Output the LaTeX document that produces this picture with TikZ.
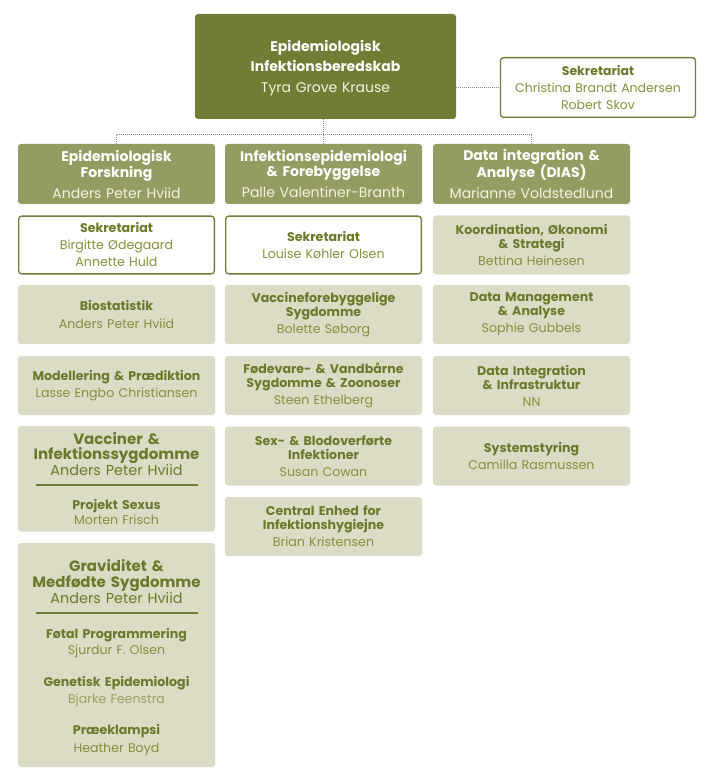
\documentclass[tikz,border=0pt]{standalone}
\usepackage{fontspec}
\setmainfont{Poppins}
\definecolor{topgreen}{HTML}{6F7D35}
\definecolor{headgreen}{HTML}{959C62}
\definecolor{lightbg}{HTML}{DBDBC6}
\definecolor{olivetext}{HTML}{6B7A2A}
\definecolor{nametext}{HTML}{868F3C}
\definecolor{paletext}{HTML}{9AA15C}
\definecolor{dotgray}{HTML}{8A8A8A}
\definecolor{cream}{HTML}{F6F3E2}
\begin{document}
\begin{tikzpicture}[x=1pt,y=-1pt,
  basebox/.style={rounded corners=3pt, inner sep=0pt, minimum width=197pt, text width=195pt, align=center},
  headbox/.style={basebox, fill=headgreen, minimum height=60pt, text=white},
  lightbox/.style={basebox, fill=lightbg, minimum height=59pt, font=\fontsize{12.6}{14}\selectfont},
  secbox/.style={basebox, fill=white, draw=topgreen, line width=1.3pt, minimum width=195.7pt, minimum height=57.7pt, font=\fontsize{12.6}{17}\selectfont},
  conn/.style={draw=dotgray, line width=0.8pt, dash pattern=on 0.9pt off 1.1pt},
  sepline/.style={draw=topgreen, line width=1.5pt},
  txt/.style={inner sep=0pt, align=center, text width=195pt}
]
\useasboundingbox (0,0) rectangle (707,783);

% top level
\node[basebox, fill=topgreen, minimum width=261pt, text width=255pt, minimum height=105pt] (top) at (325.5,66.5) {};
\node[txt, text width=255pt, font=\fontsize{14}{20.5}\selectfont, text=white] (topt) at (325.5,68)
  {\textbf{Epidemiologisk}\\\textbf{Infektionsberedskab}\\{\color{cream}Tyra Grove Krause}};
\node[secbox, minimum width=194.7pt, minimum height=59.7pt, font=\fontsize{12.5}{17}\selectfont] (sek0) at (598,87.5)
  {\textbf{\color{olivetext}Sekretariat}\\{\color{nametext}Christina Brandt Andersen}\\{\color{nametext}Robert Skov}};

% column headers
\node[headbox, font=\fontsize{14}{15}\selectfont] (head1) at (116.5,174)
  {\textbf{Epidemiologisk}\\\textbf{Forskning}\\[6pt]{\color{cream}Anders Peter Hviid}};
\node[headbox, font=\fontsize{14}{15}\selectfont] (head2) at (323.5,174)
  {\textbf{Infektionsepidemiologi}\\\textbf{\& Forebyggelse}\\[6pt]{\color{cream}Palle Valentiner-Branth}};
\node[headbox, font=\fontsize{14}{15}\selectfont] (head3) at (531.5,174)
  {\textbf{Data integration \&}\\\textbf{Analyse (DIAS)}\\[6pt]{\color{cream}Marianne Voldstedlund}};

% connectors
\coordinate (bus1) at (116.5,134);
\coordinate (bus3) at (531.5,134);
\draw[conn] (head1.north) -- (bus1) -- (bus3) -- (head3.north);
\draw[conn] (top.south -| head2.north) -- (head2.north);
\draw[conn] (top.east |- sek0.west) -- (sek0.west);

% column 1
\node[secbox] (sek1) at (116.5,245)
  {\textbf{\color{olivetext}Sekretariat}\\{\color{nametext}Birgitte Ødegaard}\\{\color{nametext}Annette Huld}};
\node[lightbox] (bio) at (116.5,314.5)
  {\textbf{\color{olivetext}Biostatistik}\\[4pt]{\color{nametext}Anders Peter Hviid}};
\node[lightbox] (mod) at (116.5,385.5)
  {\textbf{\color{olivetext}Modellering \& Prædiktion}\\[3pt]{\color{nametext}Lasse Engbo Christiansen}};
\node[lightbox, minimum height=105.5pt] (vacc) at (116.5,478.75) {};
\node[txt, font=\fontsize{15}{15.5}\selectfont, text=olivetext] (vacct) at (116.5,454)
  {\textbf{Vacciner \&}\\\textbf{Infektionssygdomme}\\{\fontsize{14.4}{15.5}\selectfont Anders Peter Hviid}};
\draw[sepline] (36,485) -- (198,485);
\node[txt, font=\fontsize{12.6}{15.5}\selectfont] (sexus) at (116.5,512)
  {\textbf{\color{olivetext}Projekt Sexus}\\{\color{nametext}Morten Frisch}};

\node[lightbox, minimum height=224pt] (grav) at (116.5,655) {};
\node[txt, font=\fontsize{15}{15.8}\selectfont, text=olivetext] (gravt) at (116.5,581.5)
  {\textbf{Graviditet \&}\\\textbf{Medfødte Sygdomme}\\{\fontsize{14.4}{15.8}\selectfont Anders Peter Hviid}};
\draw[sepline] (36,613) -- (198,613);
\node[txt, font=\fontsize{12.6}{16.5}\selectfont] (fot) at (116.5,643)
  {\textbf{\color{olivetext}Føtal Programmering}\\{\color{nametext}Sjurdur F. Olsen}};
\node[txt, font=\fontsize{12.6}{17}\selectfont] (gen) at (116.5,691.5)
  {\textbf{\color{olivetext}Genetisk Epidemiologi}\\{\color{paletext}Bjarke Feenstra}};
\node[txt, font=\fontsize{12.6}{18}\selectfont] (pre) at (116.5,740)
  {\textbf{\color{olivetext}Præeklampsi}\\{\color{nametext}Heather Boyd}};

% column 2
\node[secbox] (sek2) at (323.5,245)
  {\textbf{\color{olivetext}Sekretariat}\\{\color{nametext}Louise Køhler Olsen}};
\node[lightbox] (vac2) at (323.5,314.5)
  {\textbf{\color{olivetext}Vaccineforebyggelige}\\\textbf{\color{olivetext}Sygdomme}\\[3pt]{\color{nametext}Bolette Søborg}};
\node[lightbox] (fod) at (323.5,385.5)
  {\textbf{\color{olivetext}Fødevare- \& Vandbårne}\\\textbf{\color{olivetext}Sygdomme \& Zoonoser}\\[3pt]{\color{nametext}Steen Ethelberg}};
\node[lightbox] (sex) at (323.5,456)
  {\textbf{\color{olivetext}Sex- \& Blodoverførte}\\\textbf{\color{olivetext}Infektioner}\\[3pt]{\color{nametext}Susan Cowan}};
\node[lightbox] (cen) at (323.5,526.5)
  {\textbf{\color{olivetext}Central Enhed for}\\\textbf{\color{olivetext}Infektionshygiejne}\\[3pt]{\color{nametext}Brian Kristensen}};

% column 3
\node[lightbox] (koo) at (531.5,245)
  {\textbf{\color{olivetext}Koordination, Økonomi}\\\textbf{\color{olivetext}\& Strategi}\\[3pt]{\color{nametext}Bettina Heinesen}};
\node[lightbox] (dm) at (531.5,314.5)
  {\textbf{\color{olivetext}Data Management}\\\textbf{\color{olivetext}\& Analyse}\\[3pt]{\color{nametext}Sophie Gubbels}};
\node[lightbox] (di) at (531.5,385.5)
  {\textbf{\color{olivetext}Data Integration}\\\textbf{\color{olivetext}\& Infrastruktur}\\[3pt]{\color{nametext}NN}};
\node[lightbox] (sys) at (531.5,456)
  {\textbf{\color{olivetext}Systemstyring}\\[3pt]{\color{nametext}Camilla Rasmussen}};
\end{tikzpicture}
\end{document}
